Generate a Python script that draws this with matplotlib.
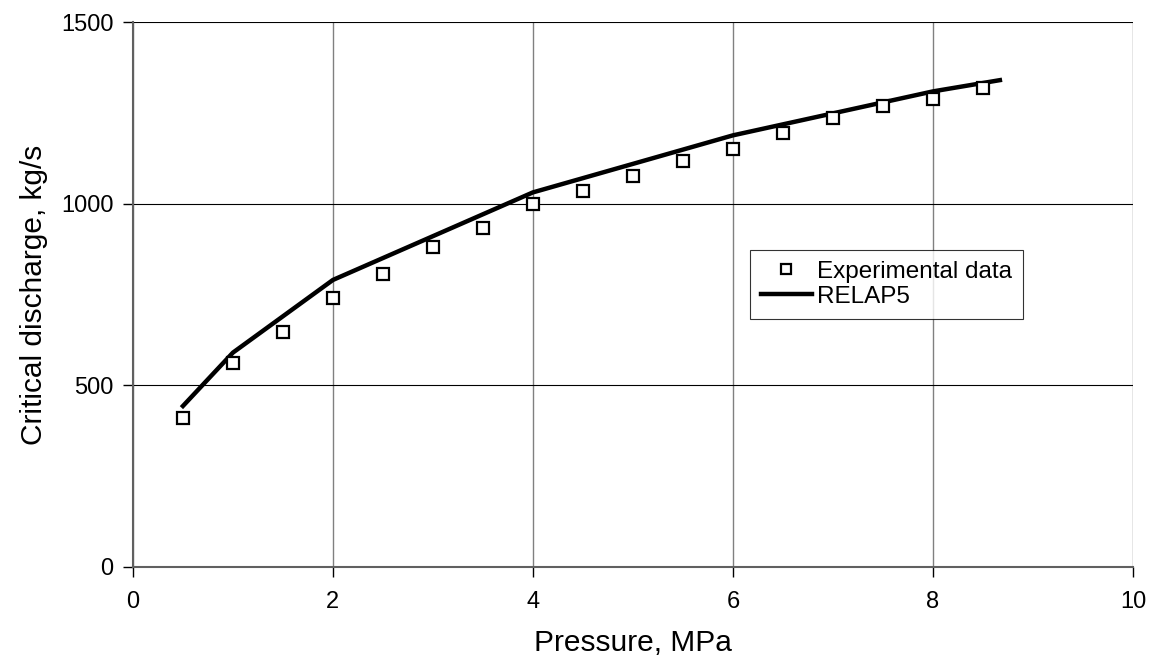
import matplotlib
matplotlib.use('Agg')
import matplotlib.pyplot as plt

plt.rcParams['font.family'] = ['Liberation Sans', 'DejaVu Sans']

# experimental points
p_exp = [0.5, 1.0, 1.5, 2.0, 2.5, 3.0, 3.5, 4.0, 4.5, 5.0, 5.5, 6.0, 6.5, 7.0, 7.5, 8.0, 8.5]
g_exp = [409, 561, 647, 740, 806, 881, 933, 1000, 1036, 1076, 1118, 1151, 1194, 1237, 1270, 1287, 1319]

# RELAP5 calculation
p_relap = [0.5, 1.0, 2.0, 4.0, 6.0, 8.0, 8.67]
g_relap = [443, 590, 790, 1031, 1188, 1309, 1340]

x_ticks = [0, 2, 4, 6, 8, 10]
y_ticks = [0, 500, 1000, 1500]


def plot_discharge():
    fig = plt.figure(figsize=(11.56, 6.67), dpi=100)
    ax = fig.add_axes([0.115, 0.15, 0.865, 0.817])

    ax.plot(p_exp, g_exp, linestyle='none', marker='s', markersize=9,
            markerfacecolor='white', markeredgecolor='black', markeredgewidth=1.6,
            label='Experimental data', zorder=4)
    ax.plot(p_relap, g_relap, color='black', linewidth=3.2,
            label='RELAP5', zorder=3)

    ax.set_xlim(0, 10)
    ax.set_ylim(0, 1500)
    ax.set_xticks(x_ticks)
    ax.set_yticks(y_ticks)
    ax.tick_params(labelsize=17, direction='out', length=7, width=1, pad=7)
    ax.tick_params(axis='x', pad=10)

    ax.grid(True, axis='x', color='#808080', linewidth=1)
    ax.grid(True, axis='y', color='black', linewidth=0.8)
    for side in ['top', 'right']:
        ax.spines[side].set_visible(False)
    for side in ['left', 'bottom']:
        ax.spines[side].set_color('#606060')
        ax.spines[side].set_linewidth(1.5)

    ax.set_xlabel('Pressure, MPa', fontsize=21.5, labelpad=12)
    ax.set_ylabel('Critical discharge, kg/s', fontsize=21.5, labelpad=9)

    leg = ax.legend(loc='upper left', bbox_to_anchor=(0.617, 0.582), fontsize=17.5,
                    frameon=True, fancybox=False, edgecolor='black',
                    borderaxespad=0, handlelength=2.1, handletextpad=0.2,
                    borderpad=0.45, labelspacing=0.12, markerscale=0.75)
    leg.get_frame().set_linewidth(0.8)

    fig.savefig('out.png', dpi=100)


if __name__ == '__main__':
    plot_discharge()
